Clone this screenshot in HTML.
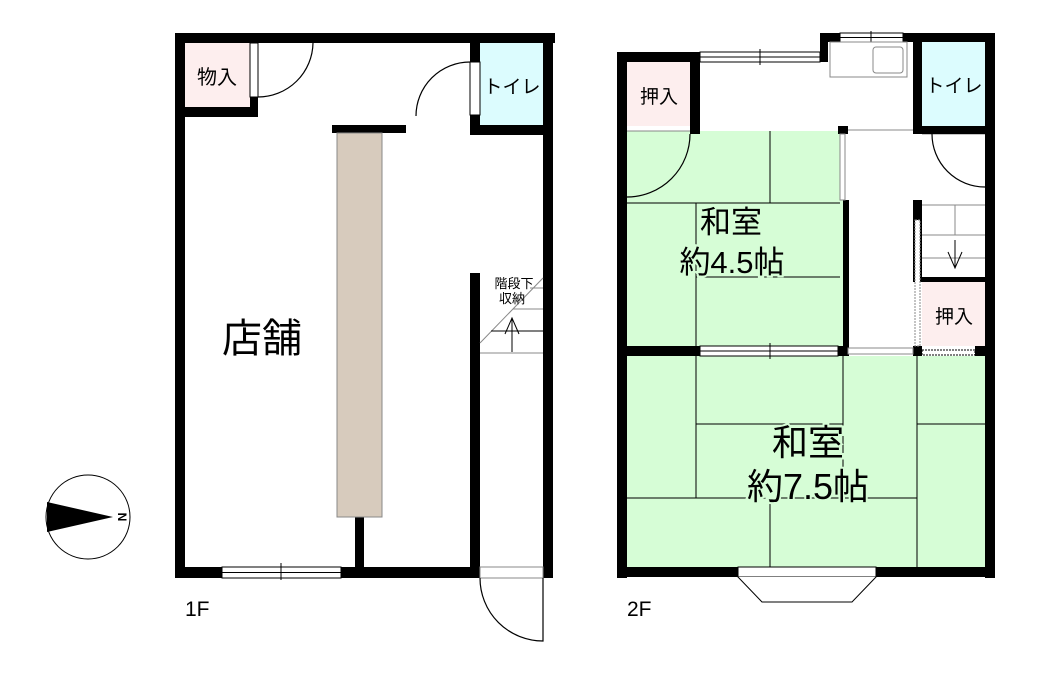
<!DOCTYPE html>
<html><head><meta charset="utf-8"><style>
html,body{margin:0;padding:0;background:#fff;}
svg{display:block;}
text{font-family:"Liberation Sans","Noto Sans CJK JP",sans-serif;}
</style></head><body>
<svg width="1039" height="682" viewBox="0 0 1039 682" xmlns="http://www.w3.org/2000/svg">
<rect width="1039" height="682" fill="#fff"/>
<!-- ===== 1F ===== -->
<rect x="185" y="43" width="65" height="65" fill="#fdeeee"/>
<rect x="480" y="43" width="63" height="82" fill="#dcfcfe"/>
<g fill="#000">
<rect x="175" y="33" width="380" height="10"/>
<rect x="175" y="33" width="10" height="545"/>
<rect x="175" y="107" width="83" height="10"/>
<rect x="250" y="97" width="8" height="20"/>
<rect x="470" y="33" width="10" height="29"/>
<rect x="470" y="115" width="10" height="20"/>
<rect x="470" y="125" width="83" height="10"/>
<rect x="543" y="33" width="10" height="545"/>
<rect x="332" y="125" width="74" height="8"/>
<rect x="355" y="515" width="9" height="63"/>
<rect x="470" y="273" width="10" height="305"/>
<rect x="175" y="567" width="47" height="11"/>
<rect x="341" y="567" width="139" height="11"/>
</g>
<rect x="250" y="43" width="8" height="54" fill="#fff" stroke="#000" stroke-width="1"/>
<path d="M258 97 A55 55 0 0 0 313 43" fill="none" stroke="#000" stroke-width="1.2"/>
<rect x="470" y="62" width="10" height="53" fill="#fff" stroke="#000" stroke-width="1"/>
<path d="M470 62 A54 54 0 0 0 416 116" fill="none" stroke="#000" stroke-width="1.2"/>
<rect x="337" y="133" width="45" height="384" fill="#d7cbbd" stroke="#888" stroke-width="1"/>
<rect x="222" y="567" width="119" height="11" fill="#fff" stroke="#000" stroke-width="1"/>
<line x1="222" y1="572.5" x2="341" y2="572.5" stroke="#000" stroke-width="1"/>
<line x1="281" y1="563" x2="281" y2="580" stroke="#000" stroke-width="1"/>
<rect x="480" y="567" width="63" height="11" fill="#fff" stroke="#888" stroke-width="1"/>
<path d="M480 578 A63 63 0 0 0 543 641 L543 578" fill="none" stroke="#000" stroke-width="1.2"/>
<g stroke="#888" stroke-width="1">
<line x1="480" y1="343" x2="543" y2="278"/>
<line x1="530" y1="288" x2="543" y2="288"/>
<line x1="513" y1="309" x2="543" y2="309"/>
<line x1="480" y1="353" x2="543" y2="353"/>
</g>
<line x1="491" y1="331" x2="543" y2="331" stroke="#000" stroke-width="1"/>
<g stroke="#000" stroke-width="1" fill="none">
<line x1="512" y1="318" x2="512" y2="352"/>
<polyline points="505,334 512,318 519,334"/>
</g>
<text x="514" y="288" font-size="13" text-anchor="middle">階段下</text>
<text x="512" y="303" font-size="13" text-anchor="middle">収納</text>
<text x="217" y="84" font-size="20" text-anchor="middle">物入</text>
<text x="512" y="93" font-size="19" text-anchor="middle">トイレ</text>
<text x="262" y="352" font-size="40" text-anchor="middle">店舗</text>
<text x="185" y="616" font-size="21">1F</text>
<circle cx="88" cy="517" r="42" fill="#fff" stroke="#000" stroke-width="1"/>
<polygon points="47,502 113,517 47,532" fill="#000"/>
<text x="121" y="517" font-size="12" font-weight="bold" text-anchor="middle" dominant-baseline="middle" transform="rotate(90 121 517)">N</text>

<!-- ===== 2F ===== -->
<rect x="627" y="62" width="63" height="64" fill="#fdeeee"/>
<rect x="922" y="42" width="63" height="84" fill="#dcfcfe"/>
<rect x="922" y="282" width="63" height="64" fill="#fdeeee"/>
<rect x="627" y="131" width="216" height="217" fill="#d6fdd6"/>
<rect x="627" y="356" width="358" height="211" fill="#d6fdd6"/>
<g stroke="#000" stroke-width="1">
<line x1="770" y1="131" x2="770" y2="203"/>
<line x1="627" y1="203" x2="840" y2="203"/>
<line x1="696" y1="203" x2="696" y2="348"/>
<line x1="696" y1="277" x2="840" y2="277"/>
<line x1="696" y1="356" x2="696" y2="498"/>
<line x1="843" y1="356" x2="843" y2="498"/>
<line x1="917" y1="356" x2="917" y2="567"/>
<line x1="696" y1="424" x2="843" y2="424"/>
<line x1="917" y1="424" x2="985" y2="424"/>
<line x1="627" y1="498" x2="917" y2="498"/>
<line x1="770" y1="498" x2="770" y2="567"/>
</g>
<line x1="627" y1="131" x2="690" y2="131" stroke="#888" stroke-width="1"/>
<line x1="848" y1="130" x2="913" y2="130" stroke="#888" stroke-width="1"/>
<line x1="922" y1="134" x2="985" y2="134" stroke="#888" stroke-width="1"/>
<g fill="#000">
<rect x="617" y="52" width="83" height="10"/>
<rect x="617" y="52" width="10" height="526"/>
<rect x="690" y="52" width="10" height="82"/>
<rect x="820" y="33" width="8" height="29"/>
<rect x="820" y="33" width="20" height="9"/>
<rect x="903" y="33" width="92" height="9"/>
<rect x="913" y="33" width="9" height="101"/>
<rect x="913" y="126" width="82" height="8"/>
<rect x="985" y="33" width="10" height="545"/>
<rect x="838" y="126" width="10" height="8"/>
<rect x="843" y="200" width="6" height="156"/>
<rect x="913" y="200" width="9" height="82"/>
<rect x="913" y="277" width="72" height="5"/>
<rect x="617" y="346" width="83" height="10"/>
<rect x="913" y="346" width="9" height="10"/>
<rect x="975" y="346" width="20" height="10"/>
<rect x="617" y="567" width="121" height="10"/>
<rect x="876" y="567" width="119" height="10"/>
</g>
<rect x="700" y="52" width="120" height="10" fill="#fff" stroke="#000" stroke-width="1"/>
<line x1="700" y1="57" x2="820" y2="57" stroke="#000" stroke-width="1"/>
<line x1="760" y1="49" x2="760" y2="65" stroke="#000" stroke-width="1"/>
<rect x="840" y="33" width="63" height="9" fill="#fff" stroke="#000" stroke-width="1"/>
<line x1="840" y1="37.5" x2="903" y2="37.5" stroke="#000" stroke-width="1"/>
<line x1="871" y1="31" x2="871" y2="44" stroke="#000" stroke-width="1"/>
<rect x="700" y="346" width="138" height="10" fill="#fff" stroke="#000" stroke-width="1"/>
<line x1="700" y1="351" x2="838" y2="351" stroke="#000" stroke-width="1"/>
<line x1="770" y1="343" x2="770" y2="359" stroke="#000" stroke-width="1"/>
<rect x="838" y="346" width="10" height="10" fill="#000"/>
<rect x="848" y="348" width="65" height="6" fill="#fff" stroke="#888" stroke-width="1"/>
<rect x="922" y="350" width="53" height="5" fill="#fff" stroke="#000" stroke-width="1" stroke-dasharray="2,1"/>
<rect x="840" y="134" width="5" height="66" fill="#fff" stroke="#888" stroke-width="1"/>
<rect x="915" y="220" width="5" height="126" fill="#fff" stroke="#888" stroke-width="1" stroke-dasharray="2,1"/>
<rect x="830" y="42" width="77" height="35" fill="#fff" stroke="#888" stroke-width="1"/>
<rect x="873" y="47" width="30" height="26" rx="3" fill="#fff" stroke="#888" stroke-width="1"/>
<path d="M690 134 A63 63 0 0 1 627 197" fill="none" stroke="#000" stroke-width="1.2"/>
<path d="M932 134 A53 53 0 0 0 985 187" fill="none" stroke="#000" stroke-width="1.2"/>
<g stroke="#888" stroke-width="1">
<line x1="922" y1="205" x2="985" y2="205"/>
<line x1="922" y1="235" x2="985" y2="235"/>
<line x1="922" y1="258" x2="985" y2="258"/>
<line x1="955" y1="205" x2="955" y2="235"/>
</g>
<g stroke="#000" stroke-width="1" fill="none">
<line x1="955" y1="240" x2="955" y2="268"/>
<polyline points="948,252 955,268 962,252"/>
</g>
<rect x="738" y="567" width="138" height="10" fill="#fff" stroke="#000" stroke-width="1"/>
<polyline points="738,577 762,602 852,602 876,577" fill="#fff" stroke="#000" stroke-width="1"/>
<text x="659" y="103" font-size="19" text-anchor="middle">押入</text>
<text x="954" y="92" font-size="19" text-anchor="middle">トイレ</text>
<text x="954" y="323" font-size="19" text-anchor="middle">押入</text>
<g stroke="#d6fdd6" stroke-width="4" paint-order="stroke">
<text x="731" y="233" font-size="31" text-anchor="middle">和室</text>
<text x="732" y="273" font-size="31" text-anchor="middle">約4.5帖</text>
<text x="808" y="455" font-size="36" text-anchor="middle">和室</text>
<text x="808" y="499" font-size="36" text-anchor="middle">約7.5帖</text>
</g>
<text x="627" y="616" font-size="21">2F</text>
</svg>
</body></html>
